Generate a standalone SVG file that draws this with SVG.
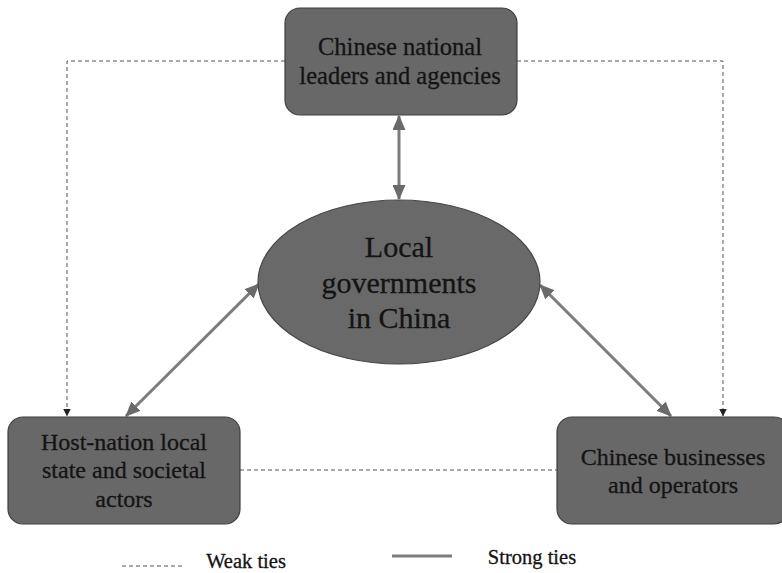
<svg xmlns="http://www.w3.org/2000/svg" width="782" height="573" viewBox="0 0 782 573">
  <style>
    .box { fill: #686868; stroke: #3f3f3f; stroke-width: 1.2; }
    .lbl { font-family: "Liberation Serif", "Times New Roman", serif; fill: #141414; stroke: #141414; stroke-width: 0.3; text-anchor: middle; }
    .weak { fill: none; stroke: #555; stroke-width: 1; stroke-dasharray: 4 3; }
    .strong { fill: none; stroke: #7c7c7c; stroke-width: 3; }
  </style>
  <defs>
    <marker id="strongHead" viewBox="0 0 15 13" refX="14" refY="6.5" markerWidth="15" markerHeight="13" markerUnits="userSpaceOnUse" orient="auto-start-reverse">
      <path d="M0,0 L15,6.5 L0,13 Z" fill="#6a6a6a"/>
    </marker>
    <marker id="weakHead" viewBox="0 0 8 8" refX="7.5" refY="4" markerWidth="8" markerHeight="8" markerUnits="userSpaceOnUse" orient="auto">
      <path d="M0,0 L8,4 L0,8 Z" fill="#222"/>
    </marker>
  </defs>

  <rect width="782" height="573" fill="#ffffff"/>

  <!-- connectors -->
  <g id="connectors">
    <polyline class="weak" points="285,61 67,61 67,416" marker-end="url(#weakHead)"/>
    <polyline class="weak" points="517,61 723,61 723,416" marker-end="url(#weakHead)"/>
    <line class="weak" x1="240" y1="470" x2="557" y2="470"/>
    <line class="strong" x1="399" y1="116" x2="399" y2="199" marker-start="url(#strongHead)" marker-end="url(#strongHead)"/>
    <line class="strong" x1="259" y1="284" x2="126" y2="416" marker-start="url(#strongHead)" marker-end="url(#strongHead)"/>
    <line class="strong" x1="540" y1="285" x2="671" y2="416" marker-start="url(#strongHead)" marker-end="url(#strongHead)"/>
  </g>

  <!-- nodes -->
  <g id="national">
    <rect class="box" x="285" y="8" width="232" height="107" rx="15"/>
    <text class="lbl" font-size="24.5" x="400" y="55">Chinese national</text>
    <text class="lbl" font-size="24.5" x="400" y="84">leaders and agencies</text>
  </g>

  <g id="local-gov">
    <ellipse cx="399" cy="282" rx="141" ry="82" fill="#696969" stroke="#474747" stroke-width="1.2"/>
    <text class="lbl" font-size="30" x="399" y="257">Local</text>
    <text class="lbl" font-size="30" x="399" y="293">governments</text>
    <text class="lbl" font-size="30" x="399" y="328">in China</text>
  </g>

  <g id="host-nation">
    <rect class="box" x="8" y="417" width="232" height="107" rx="15"/>
    <text class="lbl" font-size="24" x="124" y="450">Host-nation local</text>
    <text class="lbl" font-size="24" x="124" y="478">state and societal</text>
    <text class="lbl" font-size="24" x="124" y="507">actors</text>
  </g>

  <g id="businesses">
    <rect class="box" x="557" y="417" width="232" height="107" rx="15"/>
    <text class="lbl" font-size="24" x="673" y="465">Chinese businesses</text>
    <text class="lbl" font-size="24" x="673" y="493">and operators</text>
  </g>

  <!-- legend -->
  <g id="legend">
    <line class="weak" x1="122" y1="566" x2="182" y2="566"/>
    <text class="lbl" font-size="20.5" x="246" y="568">Weak ties</text>
    <line class="strong" x1="392" y1="556" x2="452" y2="556"/>
    <text class="lbl" font-size="20.5" x="532" y="564">Strong ties</text>
  </g>
</svg>
